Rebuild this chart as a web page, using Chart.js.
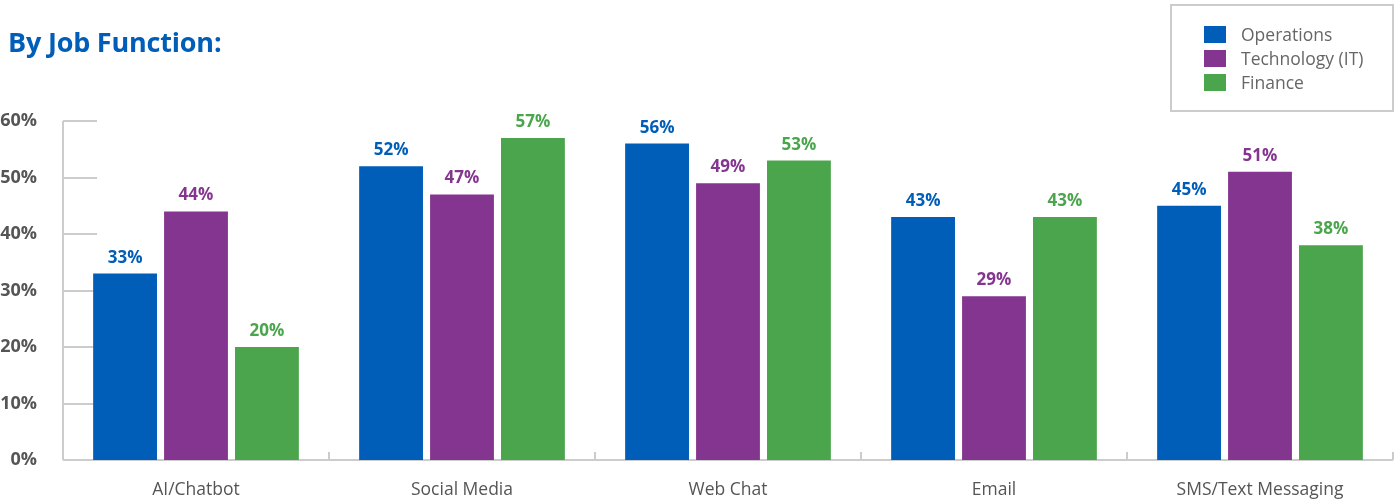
<!DOCTYPE html>
<html>
<head>
<meta charset="utf-8">
<script src="https://cdn.jsdelivr.net/npm/chart.js@4"></script>
<style>
    body { margin: 0; background: #fff; font-family: "Open Sans", sans-serif; }
    #wrap { position: relative; width: 1400px; height: 501px; }
    #title { position: absolute; left: 8px; top: 28px; font-size: 27px; font-weight: bold; color: #005eb8; line-height: 1; letter-spacing: -0.2px; }
    #legend { position: absolute; left: 1170px; top: 4px; width: 220px; height: 104px; border: 2px solid #cccccc; }
    #legend .item { position: absolute; left: 32px; height: 17px; font-size: 17.5px; color: #666; line-height: 17px; white-space: nowrap; }
    #legend .sw { display: inline-block; width: 22px; height: 17px; vertical-align: top; margin-right: 15px; }
</style>
</head>
<body>
<div id="wrap">
    <canvas id="jobChart" width="1400" height="501"></canvas>
    <div id="title">By Job Function:</div>
    <div id="legend"></div>
</div>
<script>
    const categories = ['AI/Chatbot', 'Social Media', 'Web Chat', 'Email', 'SMS/Text Messaging'];
    const seriesNames = ['Operations', 'Technology (IT)', 'Finance'];
    const seriesColors = ['#005eb8', '#84358f', '#4ba54c'];
    const operations = [33, 52, 56, 43, 45];
    const technology = [44, 47, 49, 29, 51];
    const finance = [20, 57, 53, 43, 38];
    const yTicks = [0, 10, 20, 30, 40, 50, 60];

    const seriesValues = [operations, technology, finance];
    const fontFamily = '"Open Sans", sans-serif';

    // legend box in the top right corner
    const legend = document.getElementById('legend');
    seriesNames.forEach((name, i) => {
        const item = document.createElement('div');
        item.className = 'item';
        item.style.top = (20 + i * 24) + 'px';
        item.innerHTML = `<span class="sw" style="background:${seriesColors[i]}"></span>${name}`;
        legend.appendChild(item);
    });

    // short grid stubs on the y axis and small upward ticks between categories
    const axisMarks = {
        id: 'axisMarks',
        beforeDatasetsDraw(chart) {
            const { ctx, chartArea, scales } = chart;
            ctx.save();
            ctx.strokeStyle = '#cccccc';
            ctx.lineWidth = 2;
            yTicks.forEach(v => {
                const y = Math.round(scales.y.getPixelForValue(v));
                ctx.beginPath();
                ctx.moveTo(chartArea.left, y);
                ctx.lineTo(v === 0 ? chartArea.right : chartArea.left + 34, y);
                ctx.stroke();
            });
            ctx.beginPath();
            ctx.moveTo(chartArea.left, scales.y.getPixelForValue(60));
            ctx.lineTo(chartArea.left, chartArea.bottom);
            ctx.stroke();
            const edges = [chartArea.left];
            for (let i = 0; i < categories.length - 1; i++) {
                edges.push((scales.x.getPixelForValue(i) + scales.x.getPixelForValue(i + 1)) / 2);
            }
            edges.push(chartArea.right);
            edges.forEach(x => {
                ctx.beginPath();
                ctx.moveTo(Math.round(x), chartArea.bottom);
                ctx.lineTo(Math.round(x), chartArea.bottom - 8);
                ctx.stroke();
            });
            ctx.restore();
        }
    };

    // percentage labels above every bar
    const barLabels = {
        id: 'barLabels',
        afterDatasetsDraw(chart) {
            const { ctx } = chart;
            ctx.save();
            ctx.font = 'bold 17px ' + fontFamily;
            ctx.textAlign = 'center';
            ctx.textBaseline = 'alphabetic';
            chart.data.datasets.forEach((ds, i) => {
                ctx.fillStyle = seriesColors[i];
                chart.getDatasetMeta(i).data.forEach((bar, j) => {
                    ctx.fillText(ds.data[j] + '%', bar.x, bar.y - 11);
                });
            });
            ctx.restore();
        }
    };

    new Chart(document.getElementById('jobChart'), {
        type: 'bar',
        data: {
            labels: categories,
            datasets: seriesNames.map((name, i) => ({
                label: name,
                data: seriesValues[i],
                backgroundColor: seriesColors[i],
                categoryPercentage: 0.8,
                barPercentage: 0.9
            }))
        },
        options: {
            responsive: false,
            animation: false,
            layout: { padding: { top: 121, right: 7, left: 0, bottom: 0 } },
            plugins: { legend: { display: false }, tooltip: { enabled: false } },
            scales: {
                x: {
                    grid: { display: false },
                    border: { display: false },
                    ticks: { color: '#555', font: { family: fontFamily, size: 17.5 }, padding: 12 },
                    afterFit(scale) { scale.height = 41; }
                },
                y: {
                    min: 0,
                    max: 60,
                    grid: { display: false },
                    border: { display: false },
                    afterBuildTicks(scale) { scale.ticks = yTicks.map(v => ({ value: v })); },
                    ticks: {
                        color: '#555',
                        font: { family: fontFamily, size: 18, weight: 'bold' },
                        padding: 18,
                        callback: v => v + '%'
                    },
                    afterFit(scale) { scale.width = 63; }
                }
            }
        },
        plugins: [axisMarks, barLabels]
    });
</script>
</body>
</html>
